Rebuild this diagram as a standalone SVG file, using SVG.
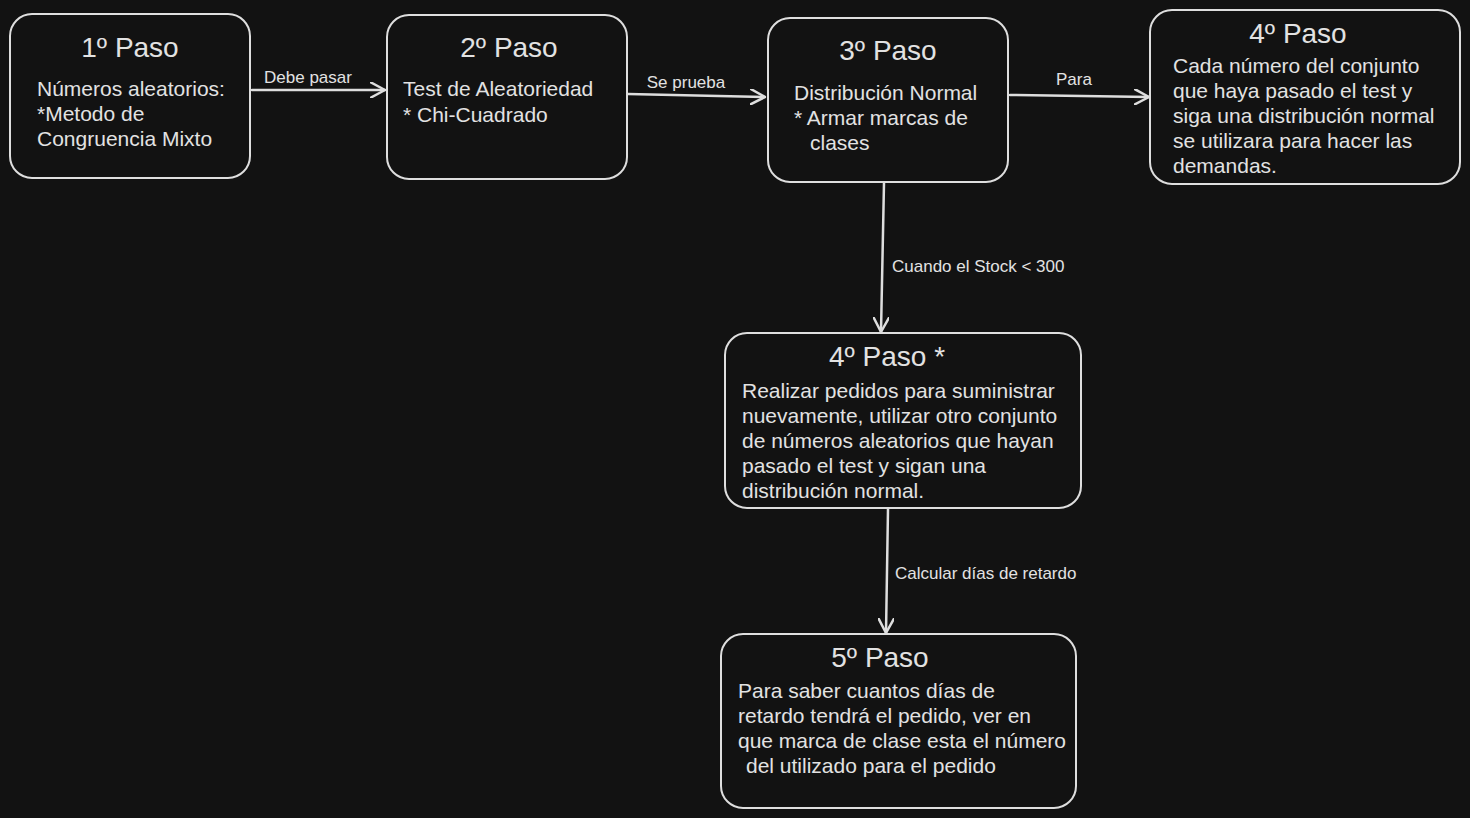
<svg xmlns="http://www.w3.org/2000/svg" width="1470" height="818" viewBox="0 0 1470 818">
<style>
.box{fill:#121212;stroke:#dedede;stroke-width:2}
.t{font-family:"Liberation Sans",Arial,sans-serif;fill:#e2e2e2}
.title{font-size:28px;text-anchor:middle}
.body{font-size:21px}
.lbl{font-size:17px}
.edge{fill:none;stroke:#dedede;stroke-width:2.5;stroke-linecap:round}
</style>
<defs>
<marker id="ah" viewBox="0 0 16 16" markerWidth="16" markerHeight="16" refX="15" refY="8" orient="auto" markerUnits="userSpaceOnUse">
<path d="M1,0.5 L15,8 L1,15.5" fill="none" stroke="#dedede" stroke-width="2.5" stroke-linecap="round" stroke-linejoin="round"/>
</marker>
</defs>
<rect width="1470" height="818" fill="#121212"/>
<g id="connectors">
<path class="edge" d="M252,90 L385,90" marker-end="url(#ah)"/>
<path class="edge" d="M628,94 L765,97" marker-end="url(#ah)"/>
<path class="edge" d="M1010,95 L1149,97" marker-end="url(#ah)"/>
<path class="edge" d="M884,183 L881,332" marker-end="url(#ah)"/>
<path class="edge" d="M888,509 L886,633" marker-end="url(#ah)"/>
<text class="t lbl" x="308" y="83" text-anchor="middle">Debe pasar</text>
<text class="t lbl" x="686" y="88" text-anchor="middle">Se prueba</text>
<text class="t lbl" x="1074" y="85" text-anchor="middle">Para</text>
<text class="t lbl" x="892" y="272">Cuando el Stock &lt; 300</text>
<text class="t lbl" x="895" y="579">Calcular días de retardo</text>
</g>
<g id="paso1">
<rect class="box" x="10" y="14" width="240" height="164" rx="22"/>
<text class="t title" x="130" y="57">1º Paso</text>
<text class="t body" x="37" y="96">Números aleatorios:</text>
<text class="t body" x="37" y="121">*Metodo de</text>
<text class="t body" x="37" y="146">Congruencia Mixto</text>
</g>
<g id="paso2">
<rect class="box" x="387" y="15" width="240" height="164" rx="22"/>
<text class="t title" x="509" y="57">2º Paso</text>
<text class="t body" x="403" y="96">Test de Aleatoriedad</text>
<text class="t body" x="403" y="122">* Chi-Cuadrado</text>
</g>
<g id="paso3">
<rect class="box" x="768" y="18" width="240" height="164" rx="22"/>
<text class="t title" x="888" y="60">3º Paso</text>
<text class="t body" x="794" y="100">Distribución Normal</text>
<text class="t body" x="794" y="125">* Armar marcas de</text>
<text class="t body" x="810" y="150">clases</text>
</g>
<g id="paso4">
<rect class="box" x="1150" y="10" width="310" height="174" rx="22"/>
<text class="t title" x="1298" y="43">4º Paso</text>
<text class="t body" x="1173" y="73">Cada número del conjunto</text>
<text class="t body" x="1173" y="98">que haya pasado el test y</text>
<text class="t body" x="1173" y="123">siga una distribución normal</text>
<text class="t body" x="1173" y="148">se utilizara para hacer las</text>
<text class="t body" x="1173" y="173">demandas.</text>
</g>
<g id="paso4b">
<rect class="box" x="725" y="333" width="356" height="175" rx="22"/>
<text class="t title" x="887" y="366">4º Paso *</text>
<text class="t body" x="742" y="398">Realizar pedidos para suministrar</text>
<text class="t body" x="742" y="423">nuevamente, utilizar otro conjunto</text>
<text class="t body" x="742" y="448">de números aleatorios que hayan</text>
<text class="t body" x="742" y="473">pasado el test y sigan una</text>
<text class="t body" x="742" y="498">distribución normal.</text>
</g>
<g id="paso5">
<rect class="box" x="721" y="634" width="355" height="174" rx="22"/>
<text class="t title" x="880" y="667">5º Paso</text>
<text class="t body" x="738" y="698">Para saber cuantos días de</text>
<text class="t body" x="738" y="723">retardo tendrá el pedido, ver en</text>
<text class="t body" x="738" y="748">que marca de clase esta el número</text>
<text class="t body" x="746" y="773">del utilizado para el pedido</text>
</g>
</svg>
